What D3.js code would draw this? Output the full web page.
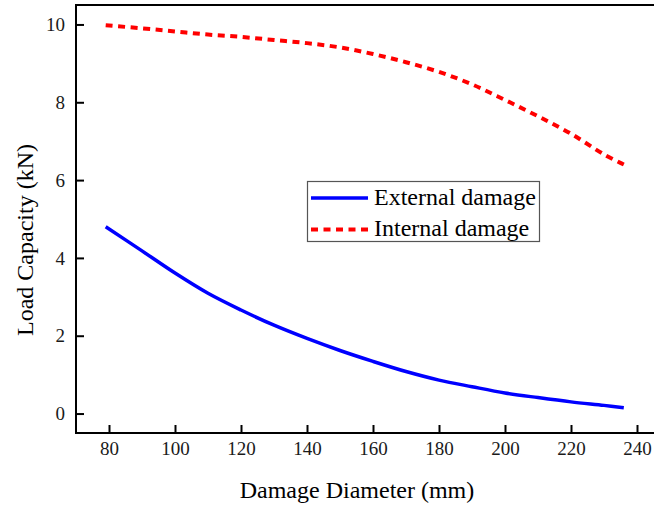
<!DOCTYPE html>
<html>
<head>
<meta charset="utf-8">
<script src="https://cdn.jsdelivr.net/npm/d3@7"></script>
<style>
  body { margin: 0; background: #fff; }
  text { font-family: "Liberation Serif", "Times New Roman", serif; fill: #000; }
</style>
</head>
<body>
<svg width="654" height="506"></svg>
<script>
// diameter (mm) sampled along the curves
var diameters = [79, 90, 100, 110, 120, 130, 140, 150, 160, 170, 180, 190, 200, 210, 220, 230, 236];
var externalDamage = [4.80, 4.18, 3.61, 3.09, 2.66, 2.27, 1.93, 1.62, 1.34, 1.08, 0.86, 0.69, 0.53, 0.41, 0.30, 0.21, 0.15];
var internalDamage = [9.98, 9.90, 9.82, 9.74, 9.68, 9.60, 9.52, 9.41, 9.24, 9.03, 8.78, 8.46, 8.06, 7.64, 7.19, 6.66, 6.40];
var xTicks = [80, 100, 120, 140, 160, 180, 200, 220, 240];
var yTicks = [0, 2, 4, 6, 8, 10];

var svg = d3.select("svg");

var margin = { left: 76, top: 5 },
    plotBottom = 433;

// x: 20 mm = 66 px, right side of frame runs off the picture
var xScale = d3.scaleLinear()
    .domain([70, 250])
    .range([margin.left, margin.left + 180 * 3.3]);

var yScale = d3.scaleLinear()
    .domain([-0.5, 10.5])
    .range([plotBottom, margin.top]);

// axes, ticks pointing inward
var xAxis = d3.axisBottom(xScale).tickValues(xTicks).tickSizeInner(-8).tickSizeOuter(0).tickPadding(9);
var yAxis = d3.axisLeft(yScale).tickValues(yTicks).tickSizeInner(-8).tickSizeOuter(0).tickPadding(11);

var gx = svg.append("g")
    .attr("transform", "translate(0," + plotBottom + ")")
    .call(xAxis);
var gy = svg.append("g")
    .attr("transform", "translate(" + margin.left + ",0)")
    .call(yAxis);

[gx, gy].forEach(function(g) {
    g.select(".domain").remove();
    g.selectAll(".tick line").attr("stroke", "#000").attr("stroke-width", 2);
    g.selectAll(".tick text")
        .style("font-size", "19px")
        .style("fill", "#1a1a1a");
});

// frame
svg.append("rect")
    .attr("x", margin.left)
    .attr("y", margin.top)
    .attr("width", xScale.range()[1] - margin.left)
    .attr("height", plotBottom - margin.top)
    .attr("fill", "none")
    .attr("stroke", "#000")
    .attr("stroke-width", 2);

var line = d3.line()
    .x(function(d) { return xScale(d[0]); })
    .y(function(d) { return yScale(d[1]); })
    .curve(d3.curveCatmullRom.alpha(0.5));

svg.append("path")
    .datum(d3.zip(diameters, externalDamage))
    .attr("d", line)
    .attr("fill", "none")
    .attr("stroke", "#0000ff")
    .attr("stroke-width", 3.5);

svg.append("path")
    .datum(d3.zip(diameters, internalDamage))
    .attr("d", line)
    .attr("fill", "none")
    .attr("stroke", "#ff0000")
    .attr("stroke-width", 4)
    .attr("stroke-dasharray", "7,5.5");

// axis titles
svg.append("text")
    .attr("x", 357)
    .attr("y", 498)
    .attr("text-anchor", "middle")
    .style("font-size", "24px")
    .text("Damage Diameter (mm)");

svg.append("text")
    .attr("transform", "translate(33,240) rotate(-90)")
    .attr("text-anchor", "middle")
    .style("font-size", "24px")
    .text("Load Capacity (kN)");

// legend
var legend = svg.append("g");
legend.append("rect")
    .attr("x", 307.5).attr("y", 181.5)
    .attr("width", 232).attr("height", 60)
    .attr("fill", "#fff")
    .attr("stroke", "#555")
    .attr("stroke-width", 1.2);

var legendItems = [
    { label: "External damage", color: "#0000ff", dash: null, y: 198 },
    { label: "Internal damage", color: "#ff0000", dash: "7,5.5", y: 229.5 }
];
legendItems.forEach(function(it) {
    legend.append("line")
        .attr("x1", 311).attr("x2", 368)
        .attr("y1", it.y).attr("y2", it.y)
        .attr("stroke", it.color)
        .attr("stroke-width", it.dash ? 4 : 3.5)
        .attr("stroke-dasharray", it.dash);
    legend.append("text")
        .attr("x", 374)
        .attr("y", it.y + 6.5)
        .style("font-size", "24px")
        .text(it.label);
});
</script>
</body>
</html>
